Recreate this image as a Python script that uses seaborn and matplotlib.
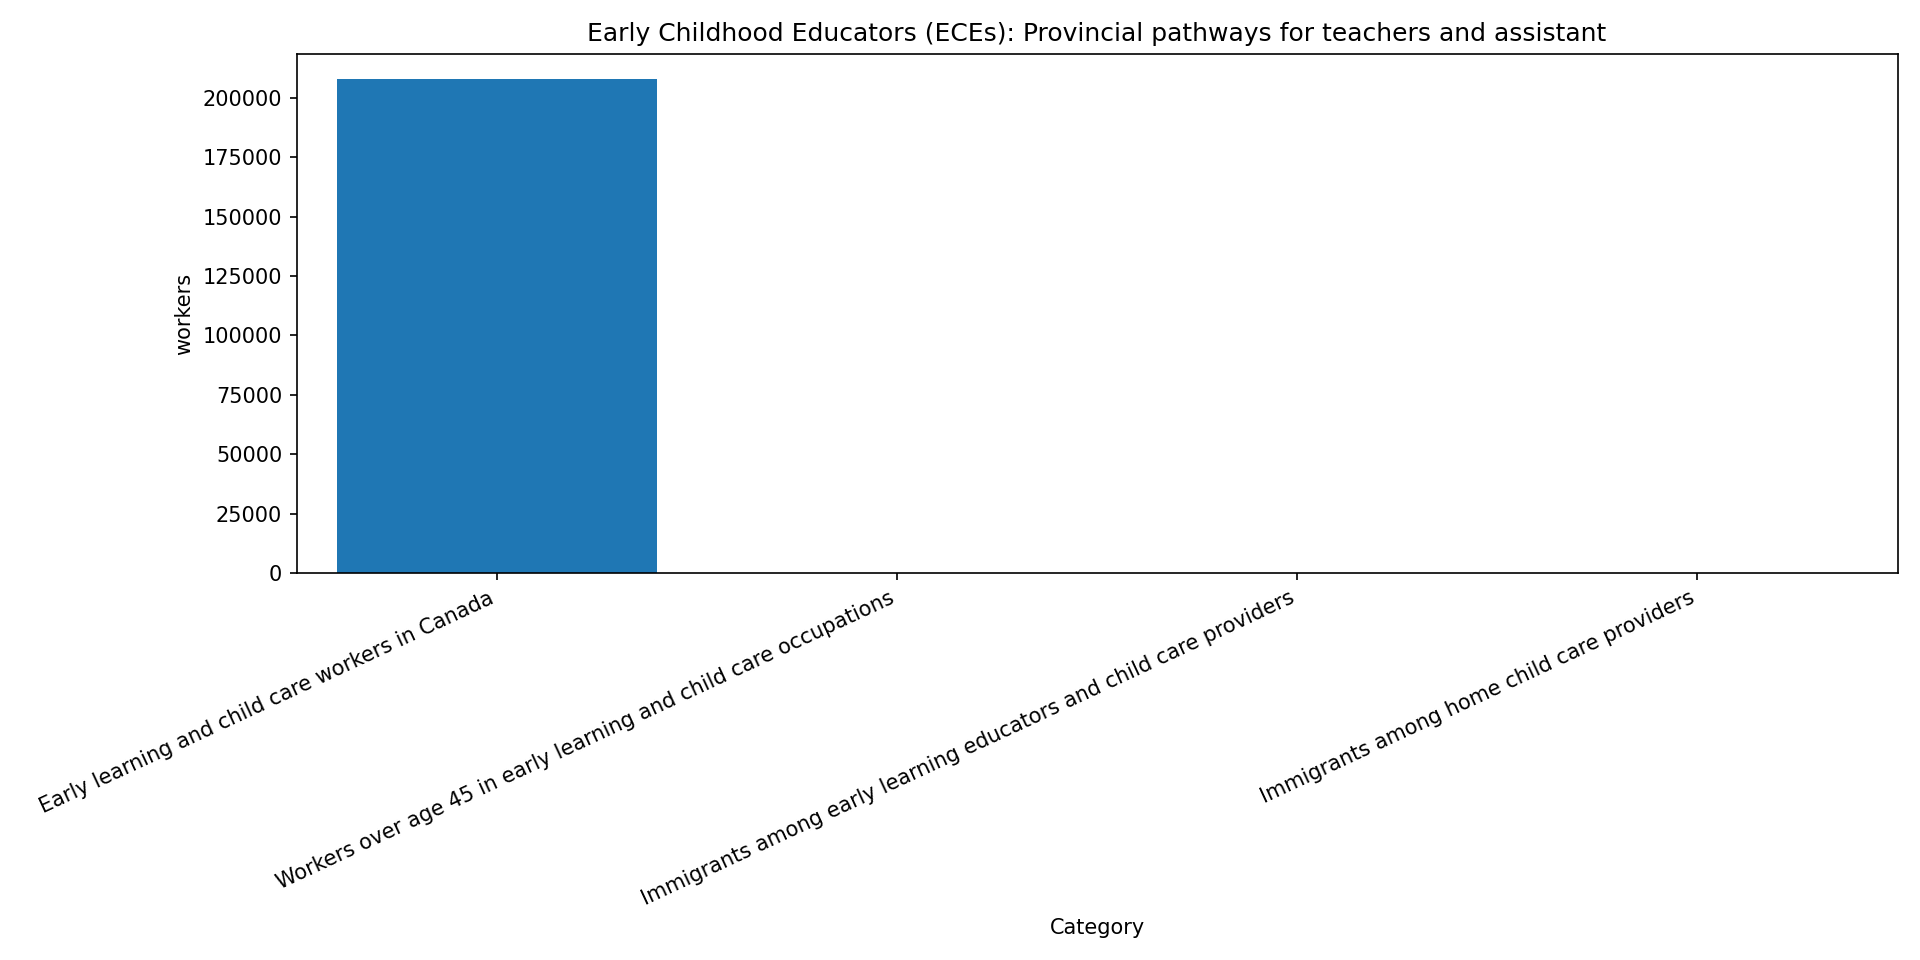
import matplotlib
matplotlib.use('Agg')
import matplotlib.pyplot as plt
import seaborn as sns
import pandas as pd

# Datos (las tres ultimas barras no se ven: valores muy pequenos)
categorias = [
    'Early learning and child care workers in Canada',
    'Workers over age 45 in early learning and child care occupations',
    'Immigrants among early learning educators and child care providers',
    'Immigrants among home child care providers',
]
trabajadores = [208000, 30, 25, 40]

df = pd.DataFrame({'Category': categorias, 'workers': trabajadores})

fig, ax = plt.subplots(figsize=(12.8, 6.4), dpi=150)
sns.barplot(data=df, x='Category', y='workers', color='#1f77b4', saturation=1, width=0.8, ax=ax)
ax.set_title('Early Childhood Educators (ECEs): Provincial pathways for teachers and assistant')
ax.set_xlabel('Category')
ax.set_ylabel('workers')
plt.setp(ax.get_xticklabels(), rotation=25, ha='right')
plt.tight_layout()
plt.savefig('out.png')
